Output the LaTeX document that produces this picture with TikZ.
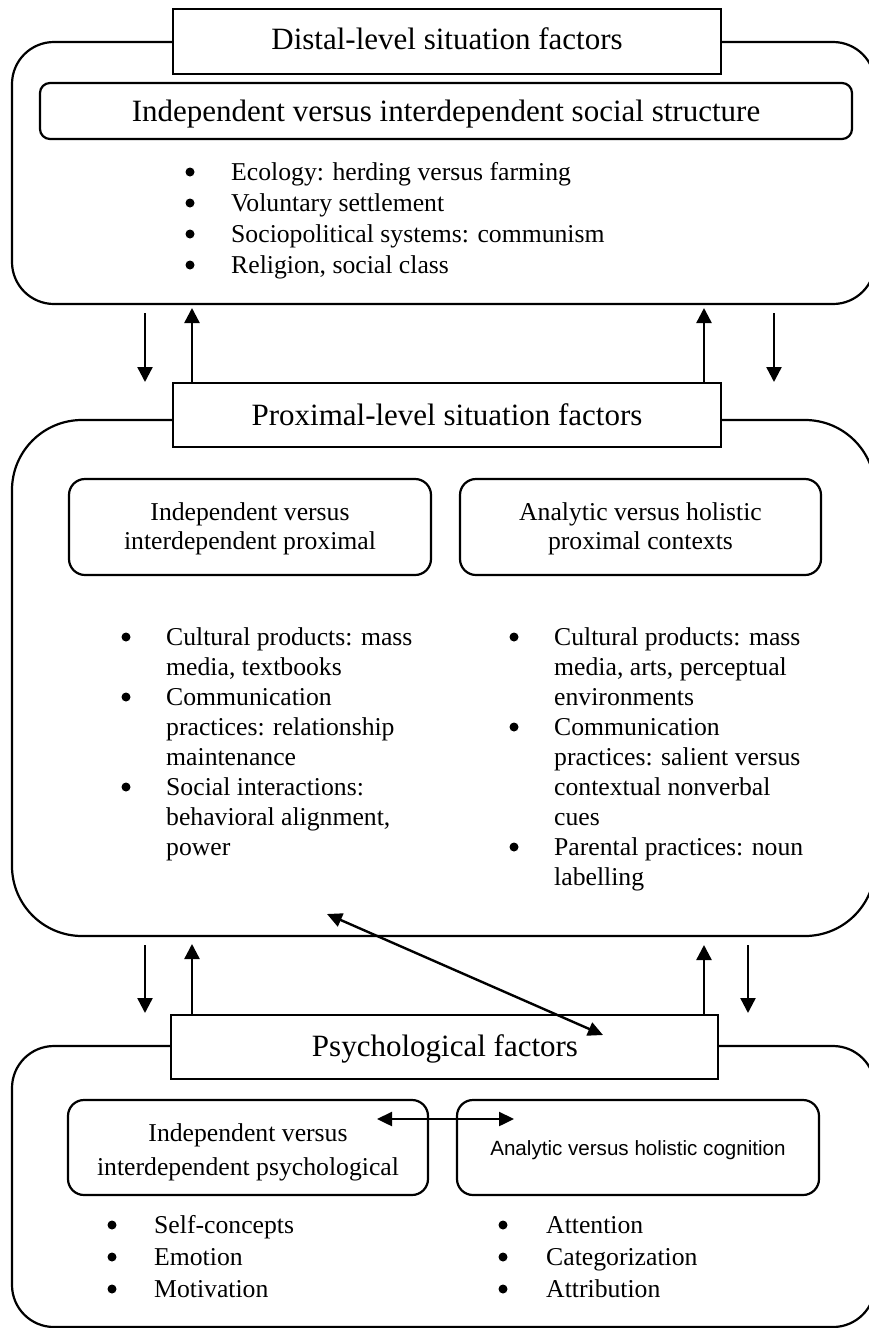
\documentclass[tikz,border=0pt]{standalone}
\usepackage{fontspec}
\setmainfont{Liberation Serif}
\newfontfamily\arialfont{Liberation Sans}
\usetikzlibrary{arrows.meta}
\tikzset{
  outerbox/.style={draw, line width=2.2pt, inner sep=0pt, rectangle},
  titlebox/.style={draw, fill=white, line width=2.4pt, inner sep=0pt, rectangle},
  innerbox/.style={draw, line width=2.2pt, inner sep=0pt, rectangle},
  ttl/.style={anchor=base, inner sep=0pt, font=\fontsize{31}{36}\selectfont},
  txt/.style={anchor=base, inner sep=0pt, font=\fontsize{25.7}{30}\selectfont},
  lst/.style={anchor=base west, inner sep=0pt},
  dot/.style={circle, fill=black, inner sep=0pt, minimum size=9pt},
  arr/.style={line width=2.4pt, -{Triangle[length=15pt,width=15pt]}},
  dblarr/.style={line width=2.4pt, {Triangle[length=15pt,width=14pt]}-{Triangle[length=15pt,width=14pt]}},
}
\begin{document}
\begin{tikzpicture}[x=1pt,y=-1pt]
\useasboundingbox (0,0) rectangle (869,1328);
\fill[white] (0,0) rectangle (869,1328);
\clip (0,0) rectangle (869,1328);

% outer boxes
\node[outerbox, rounded corners=42pt, minimum width=863pt, minimum height=262pt] (distal) at (443.5,173) {};
\node[outerbox, rounded corners=70pt, minimum width=863pt, minimum height=516pt] (prox) at (443.5,678) {};
\node[outerbox, rounded corners=42pt, minimum width=863pt, minimum height=281pt] (psych) at (443.5,1186.5) {};

% title boxes
\node[titlebox, minimum width=548pt, minimum height=65pt] (dtitle) at (447,41.5) {};
\node[titlebox, minimum width=548pt, minimum height=64pt] (ptitle) at (447,415) {};
\node[titlebox, minimum width=547pt, minimum height=64pt] (stitle) at (444.5,1047) {};

% inner boxes
\node[innerbox, rounded corners=10pt, minimum width=812pt, minimum height=56pt] (dinner) at (446,111) {};
\node[innerbox, rounded corners=16pt, minimum width=362pt, minimum height=96pt] (pleft) at (250,527) {};
\node[innerbox, rounded corners=16pt, minimum width=361pt, minimum height=96pt] (pright) at (640.5,527) {};
\node[innerbox, rounded corners=16pt, minimum width=360pt, minimum height=95pt] (sleft) at (248,1147.5) {};
\node[innerbox, rounded corners=16pt, minimum width=362pt, minimum height=95pt] (sright) at (638,1147.5) {};

% titles
\node[ttl] (dtitletxt) at (447,49) {Distal-level situation factors};
\node[ttl] (dinnertxt) at (446,121) {Independent versus interdependent social structure};
\node[ttl] (ptitletxt) at (447,425) {Proximal-level situation factors};
\node[ttl] (stitletxt) at (445,1056) {Psychological factors};

% inner box texts
\node[txt] (pl1) at (250,520) {Independent versus};
\node[txt] (pl2) at (250,549) {interdependent proximal};
\node[txt] (pr1) at (640.5,520) {Analytic versus holistic};
\node[txt] (pr2) at (640.5,549) {proximal contexts};
\node[txt] (sl1) at (248,1141) {Independent versus};
\node[txt] (sl2) at (248,1175) {interdependent psychological};
\node[anchor=base, inner sep=0pt, font=\arialfont\fontsize{20.6}{24}\selectfont] (sr1) at (638,1155) {Analytic versus holistic cognition};

% bullet lists (text)
\node[lst, font=\fontsize{25.7}{31}\selectfont] (dlist) at (231,180) {\begin{tabular}[t]{@{}l@{}}
Ecology: herding versus farming\\
Voluntary settlement\\
Sociopolitical systems: communism\\
Religion, social class
\end{tabular}};

\node[lst, font=\fontsize{25.7}{30}\selectfont] (plist) at (166,645) {\begin{tabular}[t]{@{}l@{}}
Cultural products: mass\\
media, textbooks\\
Communication\\
practices: relationship\\
maintenance\\
Social interactions:\\
behavioral alignment,\\
power
\end{tabular}};

\node[lst, font=\fontsize{25.7}{30}\selectfont] (prlist) at (554,645) {\begin{tabular}[t]{@{}l@{}}
Cultural products: mass\\
media, arts, perceptual\\
environments\\
Communication\\
practices: salient versus\\
contextual nonverbal\\
cues\\
Parental practices: noun\\
labelling
\end{tabular}};

\node[lst, font=\fontsize{25.7}{32}\selectfont] (slist) at (154,1233) {\begin{tabular}[t]{@{}l@{}}
Self-concepts\\
Emotion\\
Motivation
\end{tabular}};

\node[lst, font=\fontsize{25.7}{32}\selectfont] (srlist) at (546,1233) {\begin{tabular}[t]{@{}l@{}}
Attention\\
Categorization\\
Attribution
\end{tabular}};

% bullets
\node[dot] (db1) at (190,172) {};
\node[dot] (db2) at (190,203) {};
\node[dot] (db3) at (190,234) {};
\node[dot] (db4) at (190,265) {};
\node[dot] (pb1) at (126,637) {};
\node[dot] (pb2) at (126,697) {};
\node[dot] (pb3) at (126,787) {};
\node[dot] (qb1) at (514,637) {};
\node[dot] (qb2) at (514,727) {};
\node[dot] (qb3) at (514,847) {};
\node[dot] (sb1) at (112,1225) {};
\node[dot] (sb2) at (112,1257) {};
\node[dot] (sb3) at (112,1289) {};
\node[dot] (tb1) at (503,1225) {};
\node[dot] (tb2) at (503,1257) {};
\node[dot] (tb3) at (503,1289) {};

% arrow end points
\coordinate (a1s) at (145,313);  \coordinate (a1e) at (145,382);
\coordinate (a2s) at (192,383);  \coordinate (a2e) at (192,308);
\coordinate (a3s) at (704,383);  \coordinate (a3e) at (704,308);
\coordinate (a4s) at (774,313);  \coordinate (a4e) at (774,382);
\coordinate (b1s) at (145,945);  \coordinate (b1e) at (145,1013);
\coordinate (b2s) at (192,1015); \coordinate (b2e) at (192,944);
\coordinate (b3s) at (704,1015); \coordinate (b3e) at (704,945);
\coordinate (b4s) at (748,945);  \coordinate (b4e) at (748,1013);
\coordinate (diagA) at (327,914); \coordinate (diagB) at (603,1035);
\coordinate (horA) at (377,1119); \coordinate (horB) at (514,1119);

\draw[arr] (a1s) -- (a1e);
\draw[arr] (a2s) -- (a2e);
\draw[arr] (a3s) -- (a3e);
\draw[arr] (a4s) -- (a4e);
\draw[arr] (b1s) -- (b1e);
\draw[arr] (b2s) -- (b2e);
\draw[arr] (b3s) -- (b3e);
\draw[arr] (b4s) -- (b4e);
\draw[dblarr] (diagA) -- (diagB);
\draw[dblarr] (horA) -- (horB);
\end{tikzpicture}
\end{document}
